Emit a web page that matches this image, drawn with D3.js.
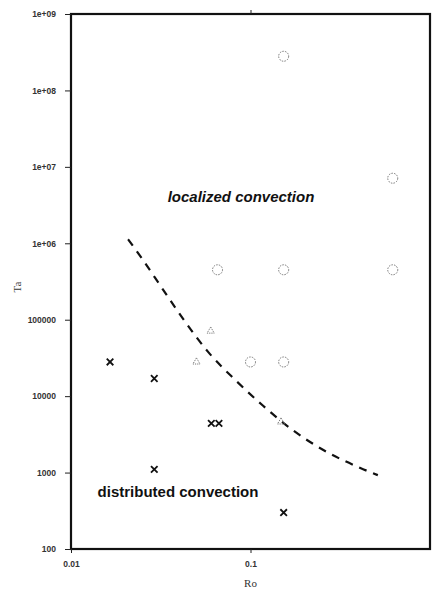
<!DOCTYPE html>
<html>
<head>
<meta charset="utf-8">
<script src="https://cdn.jsdelivr.net/npm/d3@7"></script>
<style>
  html, body { margin: 0; padding: 0; background: #fff; }
  svg { display: block; }
</style>
</head>
<body>
<svg id="chart" width="432" height="595"></svg>
<script>
// Regime diagram: Taylor number versus Rossby number
const yTickValues = [1e9, 1e8, 1e7, 1e6, 1e5, 1e4, 1e3, 1e2];
const yTickLabels = ["1e+09", "1e+08", "1e+07", "1e+06", "100000", "10000", "1000", "100"];
const xTickValues = [0.01, 0.1];
const xTickLabels = ["0.01", "0.1"];

// localized convection runs (circles)
const localizedRo = [0.153, 0.62, 0.0655, 0.153, 0.62, 0.1, 0.153];
const localizedTa = [2.8e8, 7.1e6, 4.5e5, 4.5e5, 4.5e5, 2.8e4, 2.8e4];

// transitional runs (triangles)
const transitionRo = [0.06, 0.05, 0.148];
const transitionTa = [7.1e4, 2.8e4, 4.6e3];

// distributed convection runs (crosses)
const distributedRo = [0.0165, 0.0291, 0.0605, 0.0667, 0.0291, 0.153];
const distributedTa = [2.8e4, 1.7e4, 4.4e3, 4.4e3, 1.1e3, 300];

// regime boundary
const boundaryRo = [0.0208, 0.0252, 0.0327, 0.0434, 0.0582, 0.0824, 0.1167, 0.172, 0.256, 0.412, 0.512];
const boundaryTa = [1.13e6, 6.03e5, 2.44e5, 9.3e4, 3.77e4, 1.62e4, 7.6e3, 3.59e3, 1.96e3, 1.14e3, 925];

const svg = d3.select("#chart");
const plotLeft = 71, plotRight = 430, plotTop = 14, plotBottom = 549;

const x = d3.scaleLog().domain([0.01, 1]).range([plotLeft, plotRight]);
const y = d3.scaleLog().domain([100, 1e9]).range([plotBottom, plotTop]);

// frame
svg.append("rect")
  .attr("x", plotLeft).attr("y", plotTop)
  .attr("width", plotRight - plotLeft).attr("height", plotBottom - plotTop)
  .attr("fill", "none").attr("stroke", "#111").attr("stroke-width", 2.2);

// left axis
const yAxis = d3.axisLeft(y)
  .tickValues(yTickValues)
  .tickSize(6)
  .tickFormat((d, i) => yTickLabels[i]);
const gy = svg.append("g").attr("transform", `translate(${plotLeft},0)`).call(yAxis);
gy.select(".domain").remove();
gy.selectAll("line").attr("stroke", "#222").attr("stroke-width", 1);
gy.selectAll("text")
  .attr("font-family", "Liberation Sans, Arial, sans-serif")
  .attr("font-size", 8.5).attr("font-weight", "bold").attr("fill", "#333")
  .attr("x", -15);

// bottom axis
const xAxis = d3.axisBottom(x)
  .tickValues(xTickValues)
  .tickSize(4)
  .tickFormat((d, i) => xTickLabels[i]);
const gx = svg.append("g").attr("transform", `translate(0,${plotBottom})`).call(xAxis);
gx.select(".domain").remove();
gx.selectAll("line").attr("stroke", "#222");
gx.selectAll("text")
  .attr("font-family", "Liberation Sans, Arial, sans-serif")
  .attr("font-size", 8.5).attr("font-weight", "bold").attr("fill", "#333")
  .attr("y", 12);

// top axis tick
const gt = svg.append("g").attr("transform", `translate(0,${plotTop})`)
  .call(d3.axisTop(x).tickValues([0.1]).tickSize(4).tickFormat(""));
gt.select(".domain").remove();
gt.selectAll("line").attr("stroke", "#222");

// axis titles
svg.append("text")
  .attr("x", x(0.1)).attr("y", 587)
  .attr("text-anchor", "middle")
  .attr("font-family", "Liberation Serif, Times New Roman, serif")
  .attr("font-size", 11).attr("fill", "#333")
  .text("Ro");
svg.append("text")
  .attr("transform", "translate(21,287) rotate(-90)")
  .attr("text-anchor", "middle")
  .attr("font-family", "Liberation Serif, Times New Roman, serif")
  .attr("font-size", 11).attr("fill", "#333")
  .text("Ta");

// regime boundary
const line = d3.line()
  .x((d, i) => x(boundaryRo[i]))
  .y((d, i) => y(boundaryTa[i]))
  .curve(d3.curveMonotoneX);
svg.append("path")
  .datum(boundaryRo)
  .attr("d", line)
  .attr("fill", "none")
  .attr("stroke", "#111")
  .attr("stroke-width", 2.2)
  .attr("stroke-dasharray", "8,7");

// circles
svg.append("g").selectAll("circle")
  .data(localizedRo)
  .join("circle")
  .attr("cx", (d) => x(d))
  .attr("cy", (d, i) => y(localizedTa[i]))
  .attr("r", 5)
  .attr("fill", "none")
  .attr("stroke", "#777")
  .attr("stroke-width", 1)
  .attr("stroke-dasharray", "1.5,1.2");

// triangles
const tri = d3.symbol().type(d3.symbolTriangle).size(22);
svg.append("g").selectAll("path")
  .data(transitionRo)
  .join("path")
  .attr("d", tri)
  .attr("transform", (d, i) => `translate(${x(d)},${y(transitionTa[i])})`)
  .attr("fill", "none")
  .attr("stroke", "#777")
  .attr("stroke-width", 1)
  .attr("stroke-dasharray", "1.2,1");

// crosses
const cross = d3.symbol().type(d3.symbolX).size(30);
svg.append("g").selectAll("path")
  .data(distributedRo)
  .join("path")
  .attr("d", cross)
  .attr("transform", (d, i) => `translate(${x(d)},${y(distributedTa[i])})`)
  .attr("fill", "none")
  .attr("stroke", "#111")
  .attr("stroke-width", 1.8);

// regime labels
svg.append("text")
  .attr("x", 241).attr("y", 202)
  .attr("text-anchor", "middle")
  .attr("font-family", "Liberation Sans, Arial, sans-serif")
  .attr("font-size", 15).attr("font-weight", "bold").attr("font-style", "italic")
  .attr("fill", "#111")
  .text("localized convection");
svg.append("text")
  .attr("x", 178).attr("y", 497)
  .attr("text-anchor", "middle")
  .attr("font-family", "Liberation Sans, Arial, sans-serif")
  .attr("font-size", 15).attr("font-weight", "bold")
  .attr("fill", "#111")
  .text("distributed convection");
</script>
</body>
</html>
